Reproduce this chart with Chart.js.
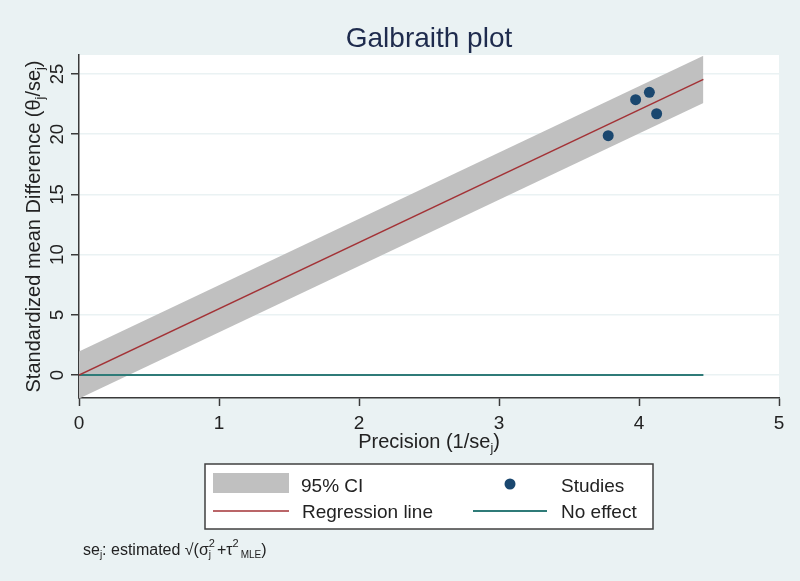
<!DOCTYPE html>
<html>
<head>
<meta charset="utf-8">
<script src="https://cdn.jsdelivr.net/npm/chart.js@4.4.1/dist/chart.umd.min.js"></script>
<style>
  html, body { margin: 0; padding: 0; background: #eaf2f3; }
  #wrap { width: 800px; height: 581px; }
</style>
</head>
<body>
<div id="wrap"><canvas id="galbraith" width="800" height="581"></canvas></div>
<script>
// Dados
const studyX = [3.78, 3.976, 4.074, 4.126];
const studyY = [19.88, 22.87, 23.48, 21.70];
const lineX = [0, 4.46];
const regY = [0, 24.56];
const ciUpper = [1.96, 26.52];
const ciLower = [-1.96, 22.60];
const noEffectY = [0, 0];
const xTicks = [0, 1, 2, 3, 4, 5];
const yTicks = [0, 5, 10, 15, 20, 25];

const FONT = '"Liberation Sans", Arial, sans-serif';
const BG = '#eaf2f3';
const AXIS = '#3a3a3a';
const TXT = '#222222';

function pts(xs, ys) {
    return xs.map((x, i) => ({ x: x, y: ys[i] }));
}

// desenha texto com sub/sobrescritos
function partsWidth(ctx, parts) {
    let w = 0;
    parts.forEach(p => {
        ctx.font = p.size + 'px ' + FONT;
        if (!p.noAdvance) w += ctx.measureText(p.t).width;
    });
    return w;
}
function drawParts(ctx, parts, x, y) {
    let cx = x;
    parts.forEach(p => {
        ctx.font = p.size + 'px ' + FONT;
        ctx.fillText(p.t, cx, y + (p.dy || 0));
        if (!p.noAdvance) cx += ctx.measureText(p.t).width + (p.gap || 0);
    });
}

const decor = {
    id: 'decor',
    beforeDraw(chart) {
        const ctx = chart.ctx, a = chart.chartArea;
        ctx.save();
        ctx.fillStyle = BG;
        ctx.fillRect(0, 0, chart.width, chart.height);
        ctx.fillStyle = '#ffffff';
        ctx.fillRect(a.left, a.top, a.right - a.left, a.bottom - a.top);
        ctx.restore();
    },
    afterDraw(chart) {
        const ctx = chart.ctx, a = chart.chartArea;
        const yScale = chart.scales.y;
        const midX = (a.left + a.right) / 2;
        const midY = (a.top + a.bottom) / 2;
        ctx.save();
        ctx.textBaseline = 'alphabetic';

        // título
        ctx.fillStyle = '#1e2b4d';
        ctx.font = '28px ' + FONT;
        ctx.textAlign = 'center';
        ctx.fillText('Galbraith plot', midX, 47);

        // rótulos do eixo y (rotacionados)
        ctx.fillStyle = TXT;
        ctx.font = '18.5px ' + FONT;
        yScale.ticks.forEach(t => {
            const py = yScale.getPixelForValue(t.value);
            ctx.save();
            ctx.translate(63, py);
            ctx.rotate(-Math.PI / 2);
            ctx.textAlign = 'center';
            ctx.fillText(String(t.value), 0, 0);
            ctx.restore();
        });

        // título do eixo y
        ctx.textAlign = 'left';
        const yTitle = [
            { t: 'Standardized mean Difference (θ', size: 20 },
            { t: 'j', size: 12.5, dy: 4 },
            { t: '/se', size: 20 },
            { t: 'j', size: 12.5, dy: 4 },
            { t: ')', size: 20 }
        ];
        const wy = partsWidth(ctx, yTitle);
        ctx.save();
        ctx.translate(40, midY);
        ctx.rotate(-Math.PI / 2);
        drawParts(ctx, yTitle, -wy / 2, 0);
        ctx.restore();

        // título do eixo x
        const xTitle = [
            { t: 'Precision (1/se', size: 20 },
            { t: 'j', size: 12.5, dy: 4 },
            { t: ')', size: 20 }
        ];
        const wx = partsWidth(ctx, xTitle);
        drawParts(ctx, xTitle, midX - wx / 2, 448);

        // legenda
        ctx.fillStyle = '#ffffff';
        ctx.fillRect(205, 464, 448, 65);
        ctx.strokeStyle = '#404040';
        ctx.lineWidth = 1.5;
        ctx.strokeRect(205, 464, 448, 65);

        ctx.fillStyle = '#c0c0c0';
        ctx.fillRect(213, 473, 76, 20);

        ctx.strokeStyle = '#a33236';
        ctx.lineWidth = 1.5;
        ctx.beginPath(); ctx.moveTo(213, 511); ctx.lineTo(289, 511); ctx.stroke();

        ctx.strokeStyle = '#2f7b78';
        ctx.lineWidth = 1.8;
        ctx.beginPath(); ctx.moveTo(473, 511); ctx.lineTo(547, 511); ctx.stroke();

        ctx.fillStyle = '#1a476f';
        ctx.beginPath(); ctx.arc(510, 484, 5.5, 0, Math.PI * 2); ctx.fill();

        ctx.fillStyle = TXT;
        ctx.font = '19px ' + FONT;
        ctx.fillText('95% CI', 301, 492);
        ctx.fillText('Studies', 561, 492);
        ctx.fillText('Regression line', 302, 518);
        ctx.fillText('No effect', 561, 518);

        // nota de rodapé
        const note = [
            { t: 'se', size: 16 },
            { t: 'j', size: 10, dy: 3 },
            { t: ': estimated √(σ', size: 16 },
            { t: 'j', size: 10, dy: 3, noAdvance: true },
            { t: '2', size: 11, dy: -8, gap: 2 },
            { t: '+τ', size: 16 },
            { t: '2', size: 11, dy: -8, gap: 2 },
            { t: 'MLE', size: 10, dy: 3 },
            { t: ')', size: 16 }
        ];
        drawParts(ctx, note, 83, 555);
        ctx.restore();
    }
};

const ctx = document.getElementById('galbraith').getContext('2d');
new Chart(ctx, {
    type: 'scatter',
    data: {
        datasets: [
            {
                label: 'Studies',
                data: pts(studyX, studyY),
                backgroundColor: '#1a476f',
                borderColor: '#1a476f',
                pointRadius: 5.5,
                pointHoverRadius: 5.5,
                borderWidth: 0,
                order: 1
            },
            {
                label: 'Regression line',
                type: 'line',
                data: pts(lineX, regY),
                borderColor: '#a33236',
                borderWidth: 1.5,
                pointRadius: 0,
                fill: false,
                order: 2
            },
            {
                label: 'No effect',
                type: 'line',
                data: pts(lineX, noEffectY),
                borderColor: '#2f7b78',
                borderWidth: 1.8,
                pointRadius: 0,
                fill: false,
                order: 3
            },
            {
                label: '95% CI',
                type: 'line',
                data: pts(lineX, ciUpper),
                borderWidth: 0,
                borderColor: 'rgba(0,0,0,0)',
                backgroundColor: '#c0c0c0',
                pointRadius: 0,
                fill: '+1',
                order: 4
            },
            {
                label: 'CI lower',
                type: 'line',
                data: pts(lineX, ciLower),
                borderWidth: 0,
                borderColor: 'rgba(0,0,0,0)',
                pointRadius: 0,
                fill: false,
                order: 5
            }
        ]
    },
    options: {
        responsive: false,
        animation: false,
        events: [],
        layout: { padding: { left: 0, top: 55, right: 21, bottom: 0 } },
        plugins: {
            legend: { display: false },
            title: { display: false },
            tooltip: { enabled: false }
        },
        scales: {
            x: {
                type: 'linear',
                min: 0,
                max: 5,
                afterBuildTicks: s => { s.ticks = xTicks.map(v => ({ value: v })); },
                afterFit: s => { s.height = 183; },
                grid: { drawOnChartArea: false, drawTicks: true, tickLength: 8, tickColor: AXIS, tickWidth: 1.5 },
                border: { display: true, color: AXIS, width: 1.5 },
                ticks: { color: TXT, font: { family: FONT, size: 19 }, padding: 6, maxRotation: 0 }
            },
            y: {
                type: 'linear',
                min: -1.91,
                max: 26.58,
                afterBuildTicks: s => { s.ticks = yTicks.map(v => ({ value: v })); },
                afterFit: s => { s.width = 79; },
                grid: { color: BG, lineWidth: 1.5, drawTicks: true, tickLength: 8, tickColor: AXIS, tickWidth: 1.5 },
                border: { display: true, color: AXIS, width: 1.5 },
                ticks: { display: false }
            }
        }
    },
    plugins: [decor]
});
</script>
</body>
</html>
